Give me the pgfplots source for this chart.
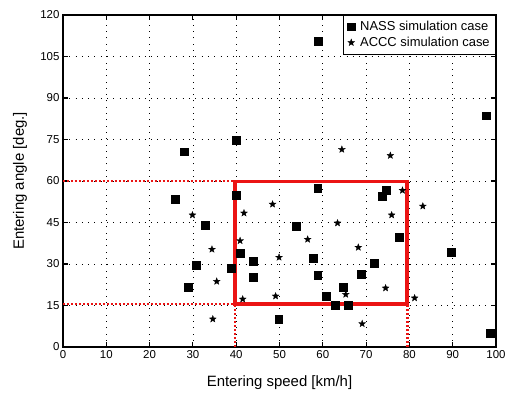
\documentclass[border=0pt]{standalone}
\usepackage{pgfplots}
\pgfplotsset{compat=1.18}
\usepackage{fontspec}
\setmainfont{Liberation Sans}
\pgfdeclareplotmark{fstar}{%
  \pgfpathmoveto{\pgfpointpolar{90}{\pgfplotmarksize}}%
  \pgfpathlineto{\pgfpointpolar{126}{0.42\pgfplotmarksize}}%
  \pgfpathlineto{\pgfpointpolar{162}{\pgfplotmarksize}}%
  \pgfpathlineto{\pgfpointpolar{198}{0.42\pgfplotmarksize}}%
  \pgfpathlineto{\pgfpointpolar{234}{\pgfplotmarksize}}%
  \pgfpathlineto{\pgfpointpolar{270}{0.42\pgfplotmarksize}}%
  \pgfpathlineto{\pgfpointpolar{306}{\pgfplotmarksize}}%
  \pgfpathlineto{\pgfpointpolar{342}{0.42\pgfplotmarksize}}%
  \pgfpathlineto{\pgfpointpolar{18}{\pgfplotmarksize}}%
  \pgfpathlineto{\pgfpointpolar{54}{0.42\pgfplotmarksize}}%
  \pgfpathclose
  \pgfusepathqfillstroke}
\definecolor{boxred}{RGB}{235,20,20}
\begin{document}
\begin{tikzpicture}
\begin{axis}[
  scale only axis,
  width=433bp, height=332bp,
  xmin=0, xmax=100, ymin=0, ymax=120,
  xtick={0,10,...,100},
  ytick={0,15,...,120},
  /pgf/number format/assume math mode=true,
  tick label style={font=\fontsize{11.5}{14}\selectfont},
  label style={font=\fontsize{15}{18}\selectfont},
  xlabel={Entering speed [km/h]},
  ylabel={Entering angle [deg.]},
  xlabel style={at={(rel axis cs:0.5,0)}, anchor=center, yshift=-36bp},
  ylabel style={at={(rel axis cs:0,0.5)}, anchor=center, rotate=0, yshift=43bp},
  axis line style={line width=1.3bp},
  tick style={line width=1.1bp, black},
  major tick length=5bp,
  tick align=inside,
  grid=major,
  major grid style={black, line width=0.7bp, dash pattern=on 0.8bp off 5.5bp},
  clip=false,
  legend style={at={(rel axis cs:1,1)}, anchor=north east, draw=black, line width=0.6bp,
    font=\fontsize{13}{15}\selectfont, inner xsep=4bp, inner ysep=4bp, row sep=1bp,
    cells={anchor=west}},
  legend cell align=left,
]
\addplot[boxred, line width=2.6bp, dash pattern=on 2.4bp off 1.6bp, forget plot] coordinates {(0,60) (40,60)};
\addplot[boxred, line width=2.6bp, dash pattern=on 2.4bp off 1.6bp, forget plot] coordinates {(0,15.5) (40,15.5)};
\addplot[boxred, line width=2.6bp, dash pattern=on 2.4bp off 1.6bp, forget plot] coordinates {(39.7,0) (39.7,15.5)};
\addplot[boxred, line width=2.6bp, dash pattern=on 2.4bp off 1.6bp, forget plot] coordinates {(79.5,0) (79.5,15.5)};
\addplot[only marks, mark=square*, mark size=3.9bp, black] coordinates {
(58.9,110.6) (27.9,70.6) (40.0,74.7) (97.8,83.6) (25.9,53.4) (40.0,54.9)
(58.8,57.3) (73.8,54.5) (74.7,56.7) (53.9,43.7) (32.9,44.0) (77.7,39.7)
(40.9,33.9) (43.9,31.0) (30.8,29.7) (57.8,32.2) (71.8,30.2) (38.8,28.6)
(43.9,25.2) (58.8,26.0) (68.8,26.4) (28.9,21.7) (64.8,21.7) (60.8,18.4)
(62.8,15.2) (65.8,15.2) (49.8,10.1) (89.7,34.3) (98.7,4.9)
};
\addlegendentry{\hspace{3bp}NASS simulation case}
\addplot[only marks, mark=fstar, mark size=3.6bp, black, mark options={line width=0.3bp}] coordinates {
(29.9,47.7) (34.4,35.3) (35.5,23.7) (34.6,10.1) (41.8,48.4) (40.9,38.4)
(41.5,17.3) (48.4,51.6) (49.9,32.4) (49.1,18.4) (63.4,44.8) (56.5,38.9)
(68.2,36.0) (65.3,19.0) (74.5,21.3) (69.1,8.4) (78.4,56.6) (75.9,47.7)
(83.1,50.9) (81.2,17.7) (64.4,71.4) (75.6,69.2)
};
\addlegendentry{\hspace{3bp}ACCC simulation case}
\draw[boxred, line width=3.5bp] (axis cs:39.7,15.5) rectangle (axis cs:79.5,59.8);
\end{axis}
\path ([xshift=-63bp,yshift=-51bp]current axis.south west) rectangle ([xshift=14bp,yshift=15bp]current axis.north east);
\end{tikzpicture}
\end{document}
